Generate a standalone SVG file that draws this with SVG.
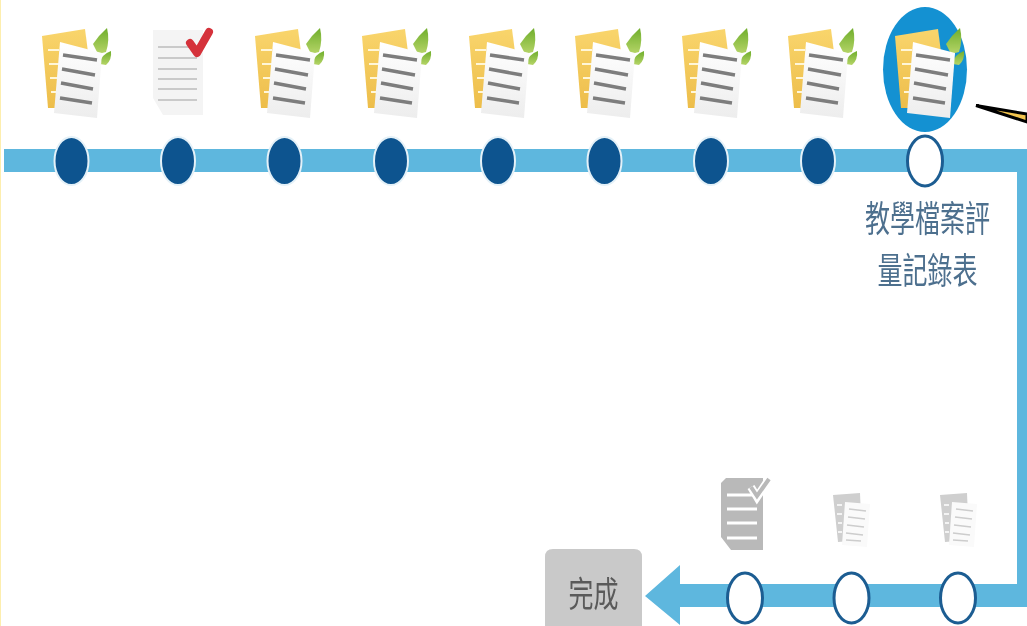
<svg xmlns="http://www.w3.org/2000/svg" width="1027" height="626" viewBox="0 0 1027 626">
<style>
.band{fill:#5eb7de}
.done{fill:#0d548f;stroke:#e4f1f8;stroke-width:2}
.todo{fill:#fff;stroke:#1c5d92;stroke-width:3}
.lbl{font-family:"Noto Sans CJK TC","Noto Sans CJK SC",sans-serif;font-size:25px;text-anchor:middle}
</style>
<defs>
<filter id="soft" x="-10%" y="-10%" width="120%" height="120%"><feGaussianBlur stdDeviation="0.7"/></filter>
<filter id="tsoft" x="-5%" y="-10%" width="110%" height="120%"><feGaussianBlur stdDeviation="0.35"/></filter>
<linearGradient id="yel" x1="0" y1="0" x2="0" y2="1"><stop offset="0" stop-color="#f9d56c"/><stop offset="1" stop-color="#edbd4a"/></linearGradient>
<linearGradient id="pap" x1="0" y1="0" x2="0" y2="1"><stop offset="0" stop-color="#fff"/><stop offset="1" stop-color="#ededed"/></linearGradient>
<linearGradient id="leaf" x1="0" y1="0" x2="0" y2="1"><stop offset="0" stop-color="#6fae2c"/><stop offset="1" stop-color="#b6d568"/></linearGradient>
<g id="folio" filter="url(#soft)">
<path d="M93 44Q99 35 107 28 110 40 106 52L98 54Z" fill="url(#leaf)"/>
<path d="M100 64Q100 55 111 51 112 60 106 65Z" fill="url(#leaf)"/>
<polygon points="42,36 85,29 89,60 62,108 48,108" fill="url(#yel)"/>
<path d="M48 50h11M49 64h10M50 78h8M51 92h7" stroke="#fff6d8" stroke-width="2"/>
<polygon points="60,42 102,53 97,118 54,113" fill="url(#pap)"/>
<path d="M63 55 97 60M62 69 95 75M61 83 93 89M60 98 92 103" stroke="#7d7d7d" stroke-width="3.500"/>
</g>
<g id="stack" filter="url(#soft)">
<polygon points="833,495 860,493 862,540 838,542" fill="#cfcfcf"/>
<path d="M837 505h5M837 514h5M838 523h4M838 532h4" stroke="#fff" stroke-width="1.500"/>
<polygon points="845,502 870,504 867,547 842,545" fill="#fafafa"/>
<path d="M849 509 866 511M848 517 865 519M847 525 864 527M846 533 863 535M846 540 861 541" stroke="#cdcdcd" stroke-width="1.500"/>
</g>
</defs>
<rect x="0" y="0" width="1" height="626" fill="#fdeeae"/>
<g id="connectors">
<path class="band" d="M4 149H1027V607H680V625L645 596 680 565V584H1017V172H4Z"/>
<polygon id="callout" points="976,105.500 1027,114 1027,122" fill="#f4c64f" stroke="#000" stroke-width="3"/>
</g>
<g id="n1"><use href="#folio"/><ellipse class="done" cx="71.500" cy="161" rx="17" ry="24"/></g>
<g id="n2">
<g filter="url(#soft)">
<path d="M153 30H203V115H163L153 98Z" fill="#f4f4f4"/>
<path d="M158 47H197M158 58H197M158 69H197M158 79H197M158 89H197M158 100H197" stroke="#bcbcbc" stroke-width="1.500"/>
<path d="M190 43 197 53 209 32" fill="none" stroke="#d5323a" stroke-width="8" stroke-linecap="round" stroke-linejoin="round"/>
</g>
<ellipse class="done" cx="178" cy="161" rx="17" ry="24"/></g>
<g id="n3"><use href="#folio" x="213"/><ellipse class="done" cx="284.500" cy="161" rx="17" ry="24"/></g>
<g id="n4"><use href="#folio" x="320"/><ellipse class="done" cx="391" cy="161" rx="17" ry="24"/></g>
<g id="n5"><use href="#folio" x="427"/><ellipse class="done" cx="498" cy="161" rx="17" ry="24"/></g>
<g id="n6"><use href="#folio" x="533"/><ellipse class="done" cx="604.500" cy="161" rx="17" ry="24"/></g>
<g id="n7"><use href="#folio" x="640"/><ellipse class="done" cx="711" cy="161" rx="17" ry="24"/></g>
<g id="n8"><use href="#folio" x="746"/><ellipse class="done" cx="818" cy="161" rx="17" ry="24"/></g>
<g id="n9">
<ellipse cx="925" cy="69.500" rx="42" ry="62.500" fill="#1491d2"/>
<use href="#folio" x="853"/>
<ellipse class="todo" cx="925" cy="161" rx="17.500" ry="25"/>
<g class="lbl" fill="#4d6f8e" filter="url(#tsoft)">
<text transform="translate(927.500 232) scale(1 1.450)">教學檔案評</text>
<text transform="translate(927.500 284) scale(1 1.450)">量記錄表</text>
</g>
</g>
<g id="n10">
<g filter="url(#soft)">
<path d="M726 478H763V550H731L721 537V483Z" fill="#b9b9b9"/>
<path d="M727 495H757M727 509H757M727 523H757M727 538H757" stroke="#fff" stroke-width="3"/>
<path d="M751 487 757 497 769 479" fill="none" stroke="#fff" stroke-width="8"/>
<path d="M751 487 757 496 769 479" fill="none" stroke="#b9b9b9" stroke-width="4"/>
</g>
<ellipse class="todo" cx="745" cy="598" rx="17.500" ry="25"/></g>
<g id="n11"><use href="#stack"/><ellipse class="todo" cx="851.500" cy="598" rx="17.500" ry="25"/></g>
<g id="n12"><use href="#stack" x="107"/><ellipse class="todo" cx="958" cy="598" rx="17.500" ry="25"/></g>
<g id="done">
<path d="M553 549H634Q642 549 642 557V626H545V557Q545 549 553 549Z" fill="#c9c9c9"/>
<text class="lbl" fill="#5a5a5a" filter="url(#tsoft)" transform="translate(593.500 607) scale(1 1.400)">完成</text>
</g>
</svg>
